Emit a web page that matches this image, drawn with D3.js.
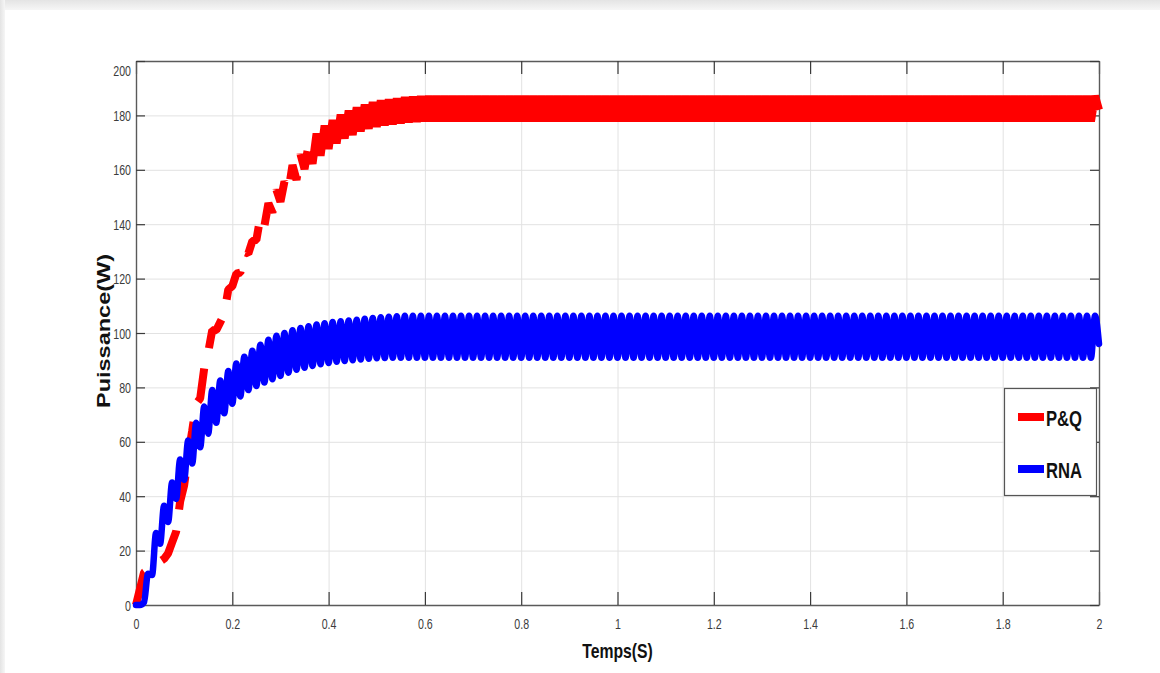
<!DOCTYPE html>
<html>
<head>
<meta charset="utf-8">
<script src="https://cdn.jsdelivr.net/npm/d3@7"></script>
<style>
html,body{margin:0;padding:0;background:#fff;}
svg{display:block;}
</style>
</head>
<body>
<svg id="chart" width="1160" height="673"></svg>
<script>
// ---------------- data ----------------
const xTicks = [0, 0.2, 0.4, 0.6, 0.8, 1, 1.2, 1.4, 1.6, 1.8, 2];
const xTickLabels = ["0", "0.2", "0.4", "0.6", "0.8", "1", "1.2", "1.4", "1.6", "1.8", "2"];
const yTicks = [0, 20, 40, 60, 80, 100, 120, 140, 160, 180, 200];
const yTickLabels = ["0", "20", "40", "60", "80", "100", "120", "140", "160", "180", "200"];
const seriesNames = ["P&Q", "RNA"];
const xTitle = "Temps(S)";
const yTitle = "Puissance(W)";
const timeStart = 0, timeEnd = 2;   // samples are evenly spaced over this interval

// P&Q power (W) (peaks/troughs of the ripple)
const pqPower = [
  0, 6, 12, 13, 14, 15, 16, 17, 19, 23,
  27, 38, 44, 55, 64, 74, 76, 87, 93, 101,
  101, 104, 107, 116, 117.2, 121.8, 122.2, 129.8, 129.2, 133.8,
  134.2, 142.7, 139.3, 147.7, 144.3, 152.7, 148.3, 155.7, 152.3, 161.7,
  156.3, 165.7, 160.3, 169.2, 162.2, 173.3, 165.2, 176.3, 167.7, 178.3,
  169.7, 180.3, 171.5, 181.8, 172.8, 183, 174.1, 184, 175.1, 184.9,
  175.8, 185.5, 176.3, 185.9, 176.7, 186.3, 177.1, 186.7, 177.4, 186.9,
  177.6, 187.1,
  177.8, 187.2, 177.8, 187.2, 177.8, 187.2, 177.8, 187.2, 177.8, 187.2, 177.8, 187.2, 177.8, 187.2, 177.8, 187.2, 177.8, 187.2, 177.8, 187.2,
  177.8, 187.2, 177.8, 187.2, 177.8, 187.2, 177.8, 187.2, 177.8, 187.2, 177.8, 187.2, 177.8, 187.2, 177.8, 187.2, 177.8, 187.2, 177.8, 187.2,
  177.8, 187.2, 177.8, 187.2, 177.8, 187.2, 177.8, 187.2, 177.8, 187.2, 177.8, 187.2, 177.8, 187.2, 177.8, 187.2, 177.8, 187.2, 177.8, 187.2,
  177.8, 187.2, 177.8, 187.2, 177.8, 187.2, 177.8, 187.2, 177.8, 187.2, 177.8, 187.2, 177.8, 187.2, 177.8, 187.2, 177.8, 187.2, 177.8, 187.2,
  177.8, 187.2, 177.8, 187.2, 177.8, 187.2, 177.8, 187.2, 177.8, 187.2, 177.8, 187.2, 177.8, 187.2, 177.8, 187.2, 177.8, 187.2, 177.8, 187.2,
  177.8, 187.2, 177.8, 187.2, 177.8, 187.2, 177.8, 187.2, 177.8, 187.2, 177.8, 187.2, 177.8, 187.2, 177.8, 187.2, 177.8, 187.2, 177.8, 187.2,
  177.8, 187.2, 177.8, 187.2, 177.8, 187.2, 177.8, 187.2, 177.8, 187.2, 177.8, 187.2, 177.8, 187.2, 177.8, 187.2, 177.8, 187.2, 177.8, 187.2,
  177.8, 187.2, 177.8, 187.2, 177.8, 187.2, 177.8, 187.2, 177.8, 187.2, 177.8, 187.2, 177.8, 187.2, 177.8, 187.2, 177.8, 187.2, 177.8, 187.2,
  177.8, 187.2, 177.8, 187.2, 177.8, 187.2, 177.8, 187.2,
  182
];

// RNA power (W) (peaks/troughs of the ripple)
const rnaPower = [
  0, 0, 1, 11.5, 11, 26.5, 22.5, 36.5, 30.5, 45,
  39, 53.5, 46, 60.5, 52, 67, 58, 73, 63, 79,
  67, 82.5, 70.5, 86, 74, 88.8, 76.7, 91.3, 79, 93.5,
  80.5, 95.7, 81.8, 97.5, 83, 99, 84.2, 100, 85.4, 101,
  86.5, 101.8, 87.2, 102.5, 87.9, 103.1, 88.5, 103.6, 89, 104,
  89.4, 104.3, 89.7, 104.6, 90, 104.9, 90.3, 105.2, 90.5, 105.5,
  90.7, 105.8, 90.8, 106, 90.9, 106.2, 90.9, 106.3,
  90.9, 106.3, 90.9, 106.3, 90.9, 106.3, 90.9, 106.3, 90.9, 106.3, 90.9, 106.3, 90.9, 106.3, 90.9, 106.3, 90.9, 106.3, 90.9, 106.3,
  90.9, 106.3, 90.9, 106.3, 90.9, 106.3, 90.9, 106.3, 90.9, 106.3, 90.9, 106.3, 90.9, 106.3, 90.9, 106.3, 90.9, 106.3, 90.9, 106.3,
  90.9, 106.3, 90.9, 106.3, 90.9, 106.3, 90.9, 106.3, 90.9, 106.3, 90.9, 106.3, 90.9, 106.3, 90.9, 106.3, 90.9, 106.3, 90.9, 106.3,
  90.9, 106.3, 90.9, 106.3, 90.9, 106.3, 90.9, 106.3, 90.9, 106.3, 90.9, 106.3, 90.9, 106.3, 90.9, 106.3, 90.9, 106.3, 90.9, 106.3,
  90.9, 106.3, 90.9, 106.3, 90.9, 106.3, 90.9, 106.3, 90.9, 106.3, 90.9, 106.3, 90.9, 106.3, 90.9, 106.3, 90.9, 106.3, 90.9, 106.3,
  90.9, 106.3, 90.9, 106.3, 90.9, 106.3, 90.9, 106.3, 90.9, 106.3, 90.9, 106.3, 90.9, 106.3, 90.9, 106.3, 90.9, 106.3, 90.9, 106.3,
  90.9, 106.3, 90.9, 106.3, 90.9, 106.3, 90.9, 106.3, 90.9, 106.3, 90.9, 106.3, 90.9, 106.3, 90.9, 106.3, 90.9, 106.3, 90.9, 106.3,
  90.9, 106.3, 90.9, 106.3, 90.9, 106.3, 90.9, 106.3, 90.9, 106.3, 90.9, 106.3, 90.9, 106.3, 90.9, 106.3, 90.9, 106.3, 90.9, 106.3,
  90.9, 106.3, 90.9, 106.3, 90.9, 106.3, 90.9, 106.3, 90.9, 106.3, 90.9, 106.3,
  96
];

// ---------------- layout ----------------
const W = 1160, H = 673;
const plot = {left: 136, right: 1099, top: 61, bottom: 605};
const FONT = "'Liberation Sans', Arial, Helvetica, sans-serif";
const SQ = 0.76; // horizontal condensation of the picture's text

const svg = d3.select("#chart");

// window frame
const defs = svg.append("defs");
const gTop = defs.append("linearGradient").attr("id", "frameTop").attr("x1", 0).attr("y1", 0).attr("x2", 0).attr("y2", 1);
gTop.append("stop").attr("offset", "0%").attr("stop-color", "#e4e4e4");
gTop.append("stop").attr("offset", "100%").attr("stop-color", "#f6f6f6");
const gLeft = defs.append("linearGradient").attr("id", "frameLeft").attr("x1", 0).attr("y1", 0).attr("x2", 1).attr("y2", 0);
gLeft.append("stop").attr("offset", "0%").attr("stop-color", "#e4e4e4");
gLeft.append("stop").attr("offset", "100%").attr("stop-color", "#f6f6f6");
svg.append("rect").attr("x", 0).attr("y", 0).attr("width", W).attr("height", H).attr("fill", "#ffffff");
svg.append("rect").attr("x", 0).attr("y", 0).attr("width", W).attr("height", 10).attr("fill", "url(#frameTop)");
svg.append("rect").attr("x", 0).attr("y", 0).attr("width", 5).attr("height", H).attr("fill", "url(#frameLeft)");

const x = d3.scaleLinear().domain([timeStart, timeEnd]).range([plot.left, plot.right]);
const y = d3.scaleLinear().domain([0, 200]).range([plot.bottom, plot.top]);

// grid
const grid = svg.append("g").attr("class", "grid");
grid.append("g").attr("transform", `translate(0,${plot.bottom})`)
  .call(d3.axisBottom(x).tickValues(xTicks).tickSize(-(plot.bottom - plot.top)).tickFormat(""))
  .call(g => g.select(".domain").remove());
grid.append("g").attr("transform", `translate(${plot.left},0)`)
  .call(d3.axisLeft(y).tickValues(yTicks).tickSize(-(plot.right - plot.left)).tickFormat(""))
  .call(g => g.select(".domain").remove());
grid.selectAll("line").attr("stroke", "#e2e2e2").attr("stroke-width", 1);

// axes (box + inward ticks)
const axisColor = "#5a5a5a";
const xAxisB = svg.append("g").attr("transform", `translate(0,${plot.bottom})`)
  .call(d3.axisBottom(x).tickValues(xTicks).tickSize(-13).tickSizeOuter(0).tickPadding(14)
    .tickFormat((d, i) => xTickLabels[i]));
const xAxisT = svg.append("g").attr("transform", `translate(0,${plot.top})`)
  .call(d3.axisTop(x).tickValues(xTicks).tickSize(-13).tickSizeOuter(0).tickFormat(""));
const yAxisL = svg.append("g").attr("transform", `translate(${plot.left},0)`)
  .call(d3.axisLeft(y).tickValues(yTicks).tickSize(-9).tickSizeOuter(0).tickPadding(5)
    .tickFormat((d, i) => yTickLabels[i]));
const yAxisR = svg.append("g").attr("transform", `translate(${plot.right},0)`)
  .call(d3.axisRight(y).tickValues(yTicks).tickSize(-9).tickSizeOuter(0).tickFormat(""));

[xAxisB, xAxisT, yAxisL, yAxisR].forEach(g => {
  g.select(".domain").attr("stroke", axisColor).attr("stroke-width", 1.4);
  g.selectAll(".tick line").attr("stroke", "#3a3a3a").attr("stroke-width", 1.2);
});
xAxisB.selectAll("text")
  .attr("font-family", FONT).attr("font-size", 14).attr("fill", "#3c3c3c")
  .attr("transform", `scale(${SQ},1)`);
yAxisL.selectAll("text")
  .attr("font-family", FONT).attr("font-size", 14).attr("fill", "#3c3c3c")
  .attr("x", -5 / SQ)
  .attr("transform", `scale(${SQ},1)`)
  .attr("dy", d => d === 200 ? "1.05em" : "0.36em");

// axis titles
svg.append("text")
  .attr("transform", `translate(${(plot.left + plot.right) / 2},658) scale(0.75,1)`)
  .attr("text-anchor", "middle")
  .attr("font-family", FONT).attr("font-weight", "bold").attr("font-size", 21)
  .attr("fill", "#111")
  .text(xTitle);
svg.append("text")
  .attr("transform", `translate(110,331) scale(0.8,1) rotate(-90)`)
  .attr("text-anchor", "middle")
  .attr("font-family", FONT).attr("font-weight", "bold").attr("font-size", 23.5)
  .attr("fill", "#111")
  .text(yTitle);

// series
const n1 = pqPower.length, n2 = rnaPower.length;
const tOf = n => i => timeStart + (timeEnd - timeStart) * i / (n - 1);
const tPQ = tOf(n1), tRNA = tOf(n2);

const linePQ = d3.line().x((d, i) => x(tPQ(i))).y(d => y(d)).curve(d3.curveLinear);
const lineRNA = d3.line().x((d, i) => x(tRNA(i))).y(d => y(d)).curve(d3.curveMonotoneX);

const pqPath = svg.append("path")
  .datum(pqPower)
  .attr("d", linePQ)
  .attr("fill", "none")
  .attr("stroke", "#ff0000")
  .attr("stroke-width", 8)
  .attr("stroke-linejoin", "bevel")
  .attr("stroke-linecap", "butt");

// dashed ('--') style: where the ripple is dense the dashes merge into a solid band
(function () {
  const node = pqPath.node();
  const total = node.getTotalLength();
  const dashOn = 34, dashOff = 21, solidFromX = x(0.36);
  const arr = [];
  let L = 0;
  while (L < total) {
    const p = node.getPointAtLength(L);
    if (p.x >= solidFromX) { break; }
    arr.push(dashOn, dashOff);
    L += dashOn + dashOff;
  }
  arr.push(total, 0);
  pqPath.attr("stroke-dasharray", arr.join(","));
})();

svg.append("path")
  .datum(rnaPower)
  .attr("d", lineRNA)
  .attr("fill", "none")
  .attr("stroke", "#0000ff")
  .attr("stroke-width", 6.5)
  .attr("stroke-linejoin", "round")
  .attr("stroke-linecap", "round");

// legend
const legend = svg.append("g");
legend.append("rect")
  .attr("x", 1004.5).attr("y", 388.5).attr("width", 92).attr("height", 107)
  .attr("fill", "#ffffff").attr("stroke", "#555").attr("stroke-width", 1.2);
const legColors = ["#ff0000", "#0000ff"];
const legY = [417, 469];
seriesNames.forEach((name, i) => {
  legend.append("line")
    .attr("x1", 1018).attr("x2", 1044).attr("y1", legY[i]).attr("y2", legY[i])
    .attr("stroke", legColors[i]).attr("stroke-width", 8);
  legend.append("text")
    .attr("transform", `translate(1046,${legY[i] + 9}) scale(0.74,1)`)
    .attr("font-family", FONT).attr("font-weight", "bold").attr("font-size", 22.5)
    .attr("fill", "#111")
    .text(name);
});
</script>
</body>
</html>
